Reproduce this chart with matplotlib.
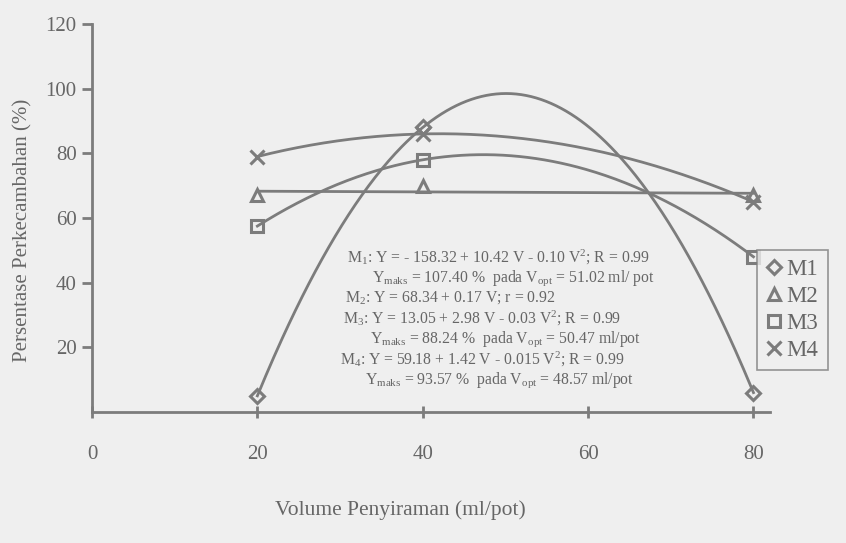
import numpy as np
import matplotlib
matplotlib.use("Agg")
import matplotlib.pyplot as plt
from matplotlib.lines import Line2D

plt.rcParams['font.family'] = ['Liberation Serif', 'DejaVu Serif']
plt.rcParams['mathtext.fontset'] = 'custom'
plt.rcParams['mathtext.rm'] = 'Liberation Serif'
plt.rcParams['mathtext.it'] = 'Liberation Serif:italic'

# ---- data ----
volume = [20, 40, 80]
m1 = [5, 88, 6]
m2 = [67, 70, 67]
m3 = [57.5, 78, 48]
m4 = [79, 86, 65]
series_names = ['M1', 'M2', 'M3', 'M4']
x_ticks = [0, 20, 40, 60, 80]
y_ticks = [20, 40, 60, 80, 100, 120]
equations = [
    r'M$_1$: Y = - 158.32 + 10.42 V - 0.10 V$^2$; R = 0.99',
    r'Y$_{\mathrm{maks}}$ = 107.40 %  pada V$_{\mathrm{opt}}$ = 51.02 ml/ pot',
    r'M$_2$: Y = 68.34 + 0.17 V; r = 0.92',
    r'M$_3$: Y = 13.05 + 2.98 V - 0.03 V$^2$; R = 0.99',
    r'Y$_{\mathrm{maks}}$ = 88.24 %  pada V$_{\mathrm{opt}}$ = 50.47 ml/pot',
    r'M$_4$: Y = 59.18 + 1.42 V - 0.015 V$^2$; R = 0.99',
    r'Y$_{\mathrm{maks}}$ = 93.57 %  pada V$_{\mathrm{opt}}$ = 48.57 ml/pot',
]

GRAY = '#7c7c7c'
TXT = '#666666'
BG = '#efefef'

W, H = 846, 543
fig = plt.figure(figsize=(W / 100, H / 100), dpi=100, facecolor=BG)
ax = fig.add_axes([92 / W, 1 - 412 / H, (770 - 92) / W, (412 - 24) / H])
ax.set_facecolor(BG)

markers = ['D', '^', 's', 'x']
msizes = [7, 9, 9, 10]
degs = [2, 1, 2, 2]
data = [m1, m2, m3, m4]
xs = np.linspace(min(volume), max(volume), 300)
handles = []
for ys, mk, ms, dg, name in zip(data, markers, msizes, degs, series_names):
    coef = np.polyfit(volume, ys, dg)
    ax.plot(xs, np.polyval(coef, xs), color=GRAY, lw=2, zorder=2)
    ax.plot(volume, ys, linestyle='none', marker=mk, markersize=ms,
            markerfacecolor='none', markeredgecolor=GRAY, markeredgewidth=2.2,
            zorder=3)
    handles.append(Line2D([], [], linestyle='none', marker=mk, markersize=ms,
                          markerfacecolor='none', markeredgecolor=GRAY,
                          markeredgewidth=2.2, label=name))

ax.set_xlim(0, 82)
ax.set_ylim(0, 120)
for s in ['top', 'right']:
    ax.spines[s].set_visible(False)
for s in ['left', 'bottom']:
    ax.spines[s].set_color(GRAY)
    ax.spines[s].set_linewidth(2)
ax.set_xticks(x_ticks)
ax.set_xticklabels([str(v) for v in x_ticks])
ax.set_yticks(y_ticks)
ax.set_yticklabels([str(v) for v in y_ticks])
ax.tick_params(axis='x', direction='inout', length=8, width=2, color=GRAY,
               labelsize=15, labelcolor=TXT, pad=20)
ax.tick_params(axis='y', direction='out', length=7, width=2, color=GRAY,
               labelsize=15, labelcolor=TXT, pad=4)

ax.set_xlabel('Volume Penyiraman (ml/pot)', fontsize=15.5, color=TXT)
ax.xaxis.set_label_coords((400 - 92) / 678, (412 - 500) / 388)
ax.set_ylabel('Persentase Perkecambahan (%)', fontsize=15, color=TXT)
ax.yaxis.set_label_coords((32 - 92) / 678, (412 - 230) / 388)

line_x = [347, 372, 345, 343, 370, 340, 365]
line_y = [257, 278, 298, 318, 339, 359, 380]
for t, px, py in zip(equations, line_x, line_y):
    fig.text(px / W, 1 - py / H, t, fontsize=11.3, color=TXT, va='center',
             ha='left')

leg = ax.legend(handles=handles, loc='upper left',
                bbox_to_anchor=(757 / W, 1 - 250 / H),
                bbox_transform=fig.transFigure, frameon=True, fancybox=False,
                fontsize=16.5, handlelength=0.7, handletextpad=0.2,
                labelspacing=0.25, borderpad=0.4, borderaxespad=0)
leg.get_frame().set_edgecolor(GRAY)
leg.get_frame().set_facecolor(BG)
leg.get_frame().set_linewidth(1.2)
for t in leg.get_texts():
    t.set_color(TXT)

fig.savefig('out.png', dpi=100, facecolor=BG)
